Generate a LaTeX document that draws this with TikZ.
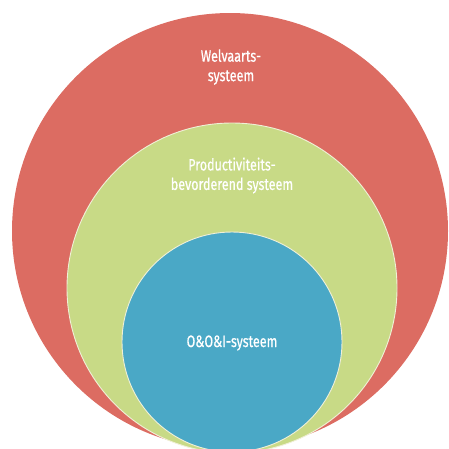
\documentclass[tikz,border=0pt]{standalone}
\usepackage{fontspec}
\newfontfamily\labelfont{Fira Sans}[FakeStretch=0.76,FakeBold=0.6]
\definecolor{redc}{RGB}{220,108,98}
\definecolor{greenc}{RGB}{200,218,134}
\definecolor{bluec}{RGB}{74,168,198}
\definecolor{rimc}{RGB}{240,240,215}
\tikzset{
  ring/.style={circle, inner sep=0pt, outer sep=0pt, draw=rimc, line width=0.9pt},
  lbl/.style={text=white, align=center, font=\labelfont\fontsize{16.5}{19.5}\selectfont, inner sep=0pt}
}
\begin{document}
\begin{tikzpicture}[x=1pt,y=-1pt]
\useasboundingbox (0,0) rectangle (449,448);
\clip (0,0) rectangle (449,448);
\node[ring, fill=redc, draw=none, minimum size=436pt] (welvaart) at (230,231) {};
\node[ring, fill=greenc, minimum size=330pt] (productiviteit) at (232,288) {};
\node[ring, fill=bluec, minimum size=220pt] (oeoi) at (232,342) {};
\node[lbl] (twelvaart) at (231,67) {Welvaarts-\\systeem};
\node[lbl] (tproductiviteit) at (232,175.5) {Productiviteits-\\bevorderend systeem};
\node[lbl] (toeoi) at (232,343) {O\&O\&I-systeem};
\end{tikzpicture}
\end{document}
